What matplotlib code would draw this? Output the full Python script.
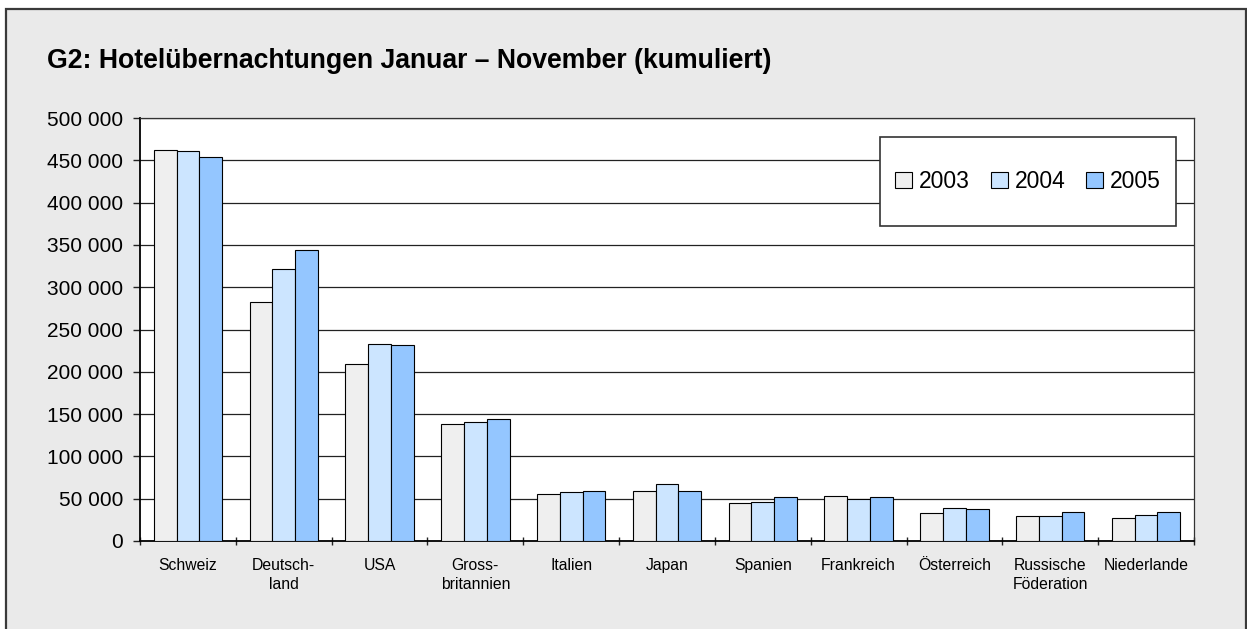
import matplotlib
matplotlib.use("Agg")
import matplotlib.pyplot as plt
from matplotlib.patches import Rectangle
from matplotlib.ticker import FuncFormatter, MultipleLocator
import numpy as np

categories = ["Schweiz", "Deutsch-\nland", "USA", "Gross-\nbritannien", "Italien", "Japan",
              "Spanien", "Frankreich", "Österreich", "Russische\nFöderation", "Niederlande"]
years = ["2003", "2004", "2005"]
v2003 = [461600, 282900, 209500, 138100, 55600, 59200, 45000, 53700, 33100, 30000, 26900]
v2004 = [461500, 321600, 233200, 140900, 58000, 67500, 46200, 50200, 39100, 30000, 30800]
v2005 = [453400, 344500, 231700, 144400, 59200, 59200, 52100, 52100, 37900, 34800, 34300]
series = [v2003, v2004, v2005]
colors = ["#EFEFEF", "#CCE5FF", "#94C6FF"]

W, H = 1247, 629
fig = plt.figure(figsize=(W / 100, H / 100), dpi=100)
fig.patch.set_facecolor("white")
bg = Rectangle((6 / W, -0.1), (1246 - 6) / W, (H - 9) / H + 0.1,
               transform=fig.transFigure, facecolor="#EAEAEA",
               edgecolor="#3a3a3a", lw=1.6, zorder=-10)
fig.add_artist(bg)

ax = fig.add_axes([140 / W, 1 - 541 / H, (1194 - 140) / W, (541 - 118) / H])
ax.set_zorder(1)
ax.set_facecolor("white")

x = np.arange(len(categories))
bw = 0.238
for i, (vals, c, yr) in enumerate(zip(series, colors, years)):
    ax.bar(x + (i - 1) * bw, vals, width=bw, color=c, edgecolor="black",
           linewidth=0.8, label=yr, zorder=3)

ax.set_xlim(-0.5, len(categories) - 0.5)
ax.set_ylim(0, 500000)
ax.yaxis.set_major_locator(MultipleLocator(50000))
ax.yaxis.set_major_formatter(FuncFormatter(lambda v, p: f"{int(v):,}".replace(",", " ")))
ax.grid(axis="y", color="#222222", linewidth=0.9, zorder=1)
ax.set_axisbelow(True)

ax.set_xticks(x)
ax.set_xticklabels(categories, fontsize=11.3, family="Liberation Sans", linespacing=1.4)
ax.set_xticks(np.arange(len(categories) + 1) - 0.5, minor=True)
ax.tick_params(axis="x", which="major", length=0, pad=12)
ax.tick_params(axis="x", which="minor", direction="inout", length=6, width=1, color="#222222")
ax.tick_params(axis="y", length=5, width=1, pad=7, color="#222222")
for lbl in ax.get_yticklabels():
    lbl.set_fontfamily("Liberation Sans")
    lbl.set_fontsize(15)

for s in ["left", "bottom"]:
    ax.spines[s].set_color("black")
    ax.spines[s].set_linewidth(1.3)
for s in ["top", "right"]:
    ax.spines[s].set_color("#333333")
    ax.spines[s].set_linewidth(0.9)

# legend box
lx0, lx1 = (880 - 140) / 1054, (1176 - 140) / 1054
ly0, ly1 = (541 - 226) / 423, (541 - 137) / 423
ax.add_patch(Rectangle((lx0, ly0), lx1 - lx0, ly1 - ly0, transform=ax.transAxes,
                       facecolor="white", edgecolor="#333333", lw=1.2, zorder=5))
leg = ax.legend(loc="center", bbox_to_anchor=((lx0 + lx1) / 2, (ly0 + ly1) / 2),
                ncol=3, frameon=False, handlelength=0.75, handleheight=0.75,
                handletextpad=0.3, columnspacing=0.9,
                prop={"family": "Liberation Sans", "size": 16.5})
leg.set_zorder(6)
for h in leg.legend_handles:
    h.set_linewidth(0.8)

fig.text(47 / W, 1 - 68 / H, "G2: Hotelübernachtungen Januar – November (kumuliert)",
         fontsize=19.2, fontweight="bold", family="Liberation Sans", va="baseline", ha="left")

fig.savefig("out.png", dpi=100, facecolor=fig.get_facecolor())
